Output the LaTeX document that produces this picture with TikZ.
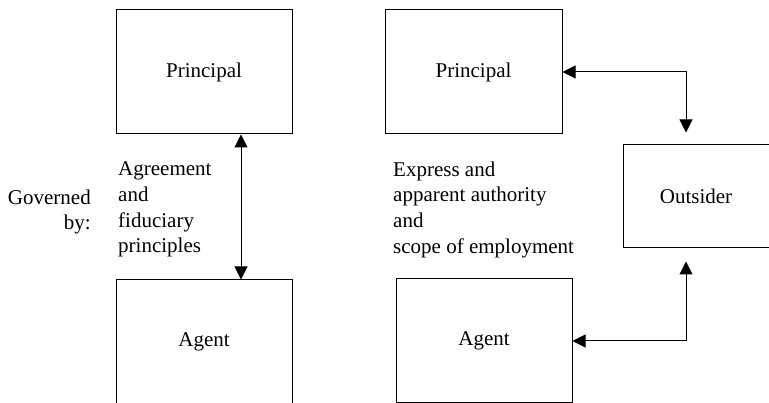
\documentclass[tikz,border=0pt]{standalone}
\usepackage{fontspec}
\setmainfont{Liberation Serif}
\usetikzlibrary{positioning,arrows.meta}

\tikzset{
  box/.style = {draw, line width = 1pt, shape = rectangle, minimum width = 176pt, minimum height = 124pt, inner sep = 0pt},
  note/.style = {align = left, inner sep = 0pt},
  link/.style = {line width = 1pt, {Triangle[length=13pt,width=13pt]}-{Triangle[length=13pt,width=13pt]}}
}

\begin{document}
\begin{tikzpicture}[x = 1pt, y = -1pt, font = \fontsize{21}{25.7}\selectfont]
\useasboundingbox (0,0) rectangle (769,403);
% left side
\node[box] (p1) at (204,72) {Principal};
\node[box, below = 145pt of p1] (a1) {Agent};
\node[note, anchor = west] (rule1) at (118,209.6) {Agreement\\and\\fiduciary\\principles};
\node[note, align = right, anchor = east] (gov) at (91,212) {Governed\\by:};
\draw[link] ([xshift=37pt]p1.south) -- ([xshift=37pt]a1.north);
% right side
\node[box, minimum width = 177pt] (p2) at (473.5,72) {Principal};
\node[box] (a2) at (484,341) {Agent};
\node[box, minimum width = 146pt, minimum height = 103pt] (out) at (696,196.5) {Outsider};
\node[note, anchor = west] (rule2) at (393,209.6) {Express and\\apparent authority\\and\\scope of employment};
\draw[link, shorten > = 12pt] (p2.east) -| ([xshift=-10pt]out.north);
\draw[link, shorten > = 13pt] (a2.east) -| ([xshift=-10pt]out.south);
\end{tikzpicture}
\end{document}
